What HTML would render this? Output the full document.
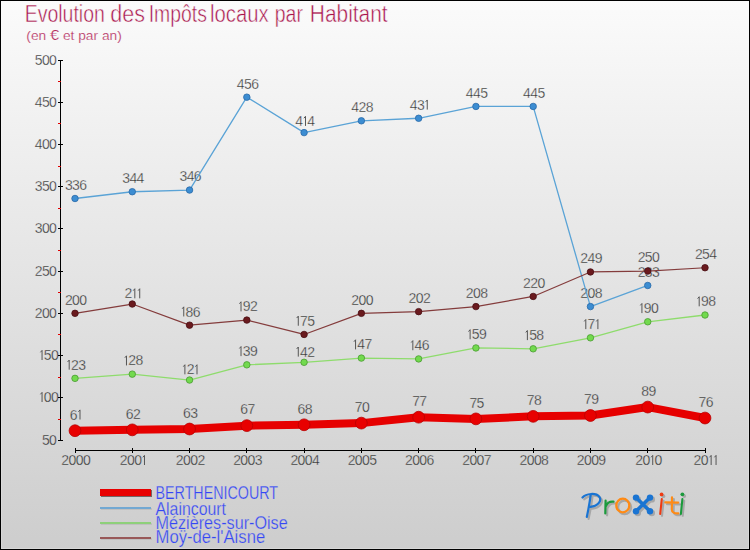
<!DOCTYPE html>
<html><head><meta charset="utf-8"><style>
html,body{margin:0;padding:0;background:#fff;}
svg{display:block;font-family:"Liberation Sans",sans-serif;}
</style></head><body>
<svg width="750" height="550" viewBox="0 0 750 550">
<defs><linearGradient id="bg" x1="0" y1="0" x2="0" y2="550" gradientUnits="userSpaceOnUse"><stop offset="0" stop-color="#fbfbfb"/><stop offset="1" stop-color="#cdcdcd"/></linearGradient><filter id="sh" x="-30%" y="-30%" width="160%" height="160%"><feGaussianBlur stdDeviation="0.7"/></filter></defs>
<rect x="0" y="0" width="750" height="550" fill="url(#bg)"/>
<rect x="1.5" y="1.5" width="747" height="547" fill="none" stroke="#ffffff" stroke-opacity="0.2" stroke-width="1"/>
<rect x="0.5" y="0.5" width="749" height="549" fill="none" stroke="#000" stroke-width="1"/>
<text x="24.70" y="22" font-size="23.5" fill="#a8144c" stroke="url(#bg)" stroke-width="0.5" textLength="80.16" lengthAdjust="spacingAndGlyphs">Evolution</text>
<text x="110.30" y="22" font-size="23.5" fill="#a8144c" stroke="url(#bg)" stroke-width="0.5" textLength="34.58" lengthAdjust="spacingAndGlyphs">des</text>
<text x="148.71" y="22" font-size="23.5" fill="#a8144c" stroke="url(#bg)" stroke-width="0.5" textLength="58.19" lengthAdjust="spacingAndGlyphs">Impôts</text>
<text x="210.03" y="22" font-size="23.5" fill="#a8144c" stroke="url(#bg)" stroke-width="0.5" textLength="58.58" lengthAdjust="spacingAndGlyphs">locaux</text>
<text x="274.74" y="22" font-size="23.5" fill="#a8144c" stroke="url(#bg)" stroke-width="0.5" textLength="28.18" lengthAdjust="spacingAndGlyphs">par</text>
<text x="309.79" y="22" font-size="23.5" fill="#a8144c" stroke="url(#bg)" stroke-width="0.5" textLength="77.87" lengthAdjust="spacingAndGlyphs">Habitant</text>
<text x="26.3" y="39.8" font-size="13" fill="#b42a5c" stroke="url(#bg)" stroke-width="0.2" textLength="95.5" lengthAdjust="spacingAndGlyphs">(en <tspan font-size="15.5">€</tspan> et par an)</text>
<text x="41.91 49.11" y="445.0" font-size="14" fill="#2a2a2a" stroke="url(#bg)" stroke-width="0.3">50</text>
<text x="43.81 51.01" y="402.0" font-size="14" fill="#2a2a2a" stroke="url(#bg)" stroke-width="0.3">00</text><path d="M40.45,394.30 L42.05,392.40 L42.05,402.00" fill="none" stroke="#555" stroke-width="1.0" stroke-linejoin="round"/>
<text x="43.81 51.01" y="360.0" font-size="14" fill="#2a2a2a" stroke="url(#bg)" stroke-width="0.3">50</text><path d="M40.45,352.30 L42.05,350.40 L42.05,360.00" fill="none" stroke="#555" stroke-width="1.0" stroke-linejoin="round"/>
<text x="34.71 41.91 49.11" y="318.0" font-size="14" fill="#2a2a2a" stroke="url(#bg)" stroke-width="0.3">200</text>
<text x="34.71 41.91 49.11" y="276.0" font-size="14" fill="#2a2a2a" stroke="url(#bg)" stroke-width="0.3">250</text>
<text x="34.71 41.91 49.11" y="233.0" font-size="14" fill="#2a2a2a" stroke="url(#bg)" stroke-width="0.3">300</text>
<text x="34.71 41.91 49.11" y="191.0" font-size="14" fill="#2a2a2a" stroke="url(#bg)" stroke-width="0.3">350</text>
<text x="34.71 41.91 49.11" y="149.0" font-size="14" fill="#2a2a2a" stroke="url(#bg)" stroke-width="0.3">400</text>
<text x="34.71 41.91 49.11" y="107.0" font-size="14" fill="#2a2a2a" stroke="url(#bg)" stroke-width="0.3">450</text>
<text x="34.71 41.91 49.11" y="65.0" font-size="14" fill="#2a2a2a" stroke="url(#bg)" stroke-width="0.3">500</text>
<text x="61.31 68.51 75.71 82.91" y="465.0" font-size="14" fill="#2a2a2a" stroke="url(#bg)" stroke-width="0.3">2000</text>
<text x="119.73 126.93 134.13" y="465.0" font-size="14" fill="#2a2a2a" stroke="url(#bg)" stroke-width="0.3">200</text><path d="M142.87,457.30 L144.47,455.40 L144.47,465.00" fill="none" stroke="#555" stroke-width="1.0" stroke-linejoin="round"/>
<text x="175.85 183.05 190.25 197.45" y="465.0" font-size="14" fill="#2a2a2a" stroke="url(#bg)" stroke-width="0.3">2002</text>
<text x="233.13 240.33 247.53 254.73" y="465.0" font-size="14" fill="#2a2a2a" stroke="url(#bg)" stroke-width="0.3">2003</text>
<text x="290.40 297.60 304.80 312.00" y="465.0" font-size="14" fill="#2a2a2a" stroke="url(#bg)" stroke-width="0.3">2004</text>
<text x="347.67 354.87 362.07 369.27" y="465.0" font-size="14" fill="#2a2a2a" stroke="url(#bg)" stroke-width="0.3">2005</text>
<text x="404.94 412.14 419.34 426.54" y="465.0" font-size="14" fill="#2a2a2a" stroke="url(#bg)" stroke-width="0.3">2006</text>
<text x="462.22 469.42 476.62 483.82" y="465.0" font-size="14" fill="#2a2a2a" stroke="url(#bg)" stroke-width="0.3">2007</text>
<text x="519.49 526.69 533.89 541.09" y="465.0" font-size="14" fill="#2a2a2a" stroke="url(#bg)" stroke-width="0.3">2008</text>
<text x="576.76 583.96 591.16 598.36" y="465.0" font-size="14" fill="#2a2a2a" stroke="url(#bg)" stroke-width="0.3">2009</text>
<text x="635.19 642.39 654.49" y="465.0" font-size="14" fill="#2a2a2a" stroke="url(#bg)" stroke-width="0.3">200</text><path d="M651.13,457.30 L652.73,455.40 L652.73,465.00" fill="none" stroke="#555" stroke-width="1.0" stroke-linejoin="round"/>
<text x="693.61 700.81" y="465.0" font-size="14" fill="#2a2a2a" stroke="url(#bg)" stroke-width="0.3">20</text><path d="M709.55,457.30 L711.15,455.40 L711.15,465.00" fill="none" stroke="#555" stroke-width="1.0" stroke-linejoin="round"/><path d="M714.45,457.30 L716.05,455.40 L716.05,465.00" fill="none" stroke="#555" stroke-width="1.0" stroke-linejoin="round"/>
<text x="64.91 72.11 79.31" y="189.8" font-size="14" fill="#2a2a2a" stroke="url(#bg)" stroke-width="0.3">336</text><text x="122.18 129.38 136.58" y="183.0" font-size="14" fill="#2a2a2a" stroke="url(#bg)" stroke-width="0.3">344</text><text x="179.45 186.65 193.85" y="181.3" font-size="14" fill="#2a2a2a" stroke="url(#bg)" stroke-width="0.3">346</text><text x="236.73 243.93 251.13" y="88.5" font-size="14" fill="#2a2a2a" stroke="url(#bg)" stroke-width="0.3">456</text><text x="295.15 307.25" y="125.9" font-size="14" fill="#2a2a2a" stroke="url(#bg)" stroke-width="0.3">44</text><path d="M303.89,118.22 L305.49,116.32 L305.49,125.92" fill="none" stroke="#555" stroke-width="1.0" stroke-linejoin="round"/><text x="351.27 358.47 365.67" y="112.1" font-size="14" fill="#2a2a2a" stroke="url(#bg)" stroke-width="0.3">428</text><text x="409.69 416.89" y="109.6" font-size="14" fill="#2a2a2a" stroke="url(#bg)" stroke-width="0.3">43</text><path d="M425.64,101.87 L427.24,99.97 L427.24,109.57" fill="none" stroke="#555" stroke-width="1.0" stroke-linejoin="round"/><text x="465.82 473.02 480.22" y="97.7" font-size="14" fill="#2a2a2a" stroke="url(#bg)" stroke-width="0.3">445</text><text x="523.09 530.29 537.49" y="97.7" font-size="14" fill="#2a2a2a" stroke="url(#bg)" stroke-width="0.3">445</text><text x="580.36 587.56 594.76" y="297.9" font-size="14" fill="#2a2a2a" stroke="url(#bg)" stroke-width="0.3">208</text><text x="637.64 644.84 652.04" y="276.8" font-size="14" fill="#2a2a2a" stroke="url(#bg)" stroke-width="0.3">233</text>
<text x="70.96 78.16" y="369.7" font-size="14" fill="#2a2a2a" stroke="url(#bg)" stroke-width="0.3">23</text><path d="M67.60,361.96 L69.20,360.06 L69.20,369.66" fill="none" stroke="#555" stroke-width="1.0" stroke-linejoin="round"/><text x="128.23 135.43" y="365.4" font-size="14" fill="#2a2a2a" stroke="url(#bg)" stroke-width="0.3">28</text><path d="M124.87,357.73 L126.47,355.83 L126.47,365.43" fill="none" stroke="#555" stroke-width="1.0" stroke-linejoin="round"/><text x="186.65" y="374.3" font-size="14" fill="#2a2a2a" stroke="url(#bg)" stroke-width="0.3">2</text><path d="M183.30,366.64 L184.90,364.74 L184.90,374.34" fill="none" stroke="#555" stroke-width="1.0" stroke-linejoin="round"/><path d="M195.40,366.64 L197.00,364.74 L197.00,374.34" fill="none" stroke="#555" stroke-width="1.0" stroke-linejoin="round"/><text x="242.78 249.98" y="356.1" font-size="14" fill="#2a2a2a" stroke="url(#bg)" stroke-width="0.3">39</text><path d="M239.42,348.44 L241.02,346.54 L241.02,356.14" fill="none" stroke="#555" stroke-width="1.0" stroke-linejoin="round"/><text x="300.05 307.25" y="356.6" font-size="14" fill="#2a2a2a" stroke="url(#bg)" stroke-width="0.3">42</text><path d="M296.69,348.91 L298.29,347.01 L298.29,356.61" fill="none" stroke="#555" stroke-width="1.0" stroke-linejoin="round"/><text x="357.32 364.52" y="349.4" font-size="14" fill="#2a2a2a" stroke="url(#bg)" stroke-width="0.3">47</text><path d="M353.96,341.69 L355.56,339.79 L355.56,349.39" fill="none" stroke="#555" stroke-width="1.0" stroke-linejoin="round"/><text x="414.59 421.79" y="350.2" font-size="14" fill="#2a2a2a" stroke="url(#bg)" stroke-width="0.3">46</text><path d="M411.24,342.53 L412.84,340.63 L412.84,350.23" fill="none" stroke="#555" stroke-width="1.0" stroke-linejoin="round"/><text x="471.87 479.07" y="339.3" font-size="14" fill="#2a2a2a" stroke="url(#bg)" stroke-width="0.3">59</text><path d="M468.51,331.56 L470.11,329.66 L470.11,339.26" fill="none" stroke="#555" stroke-width="1.0" stroke-linejoin="round"/><text x="529.14 536.34" y="340.1" font-size="14" fill="#2a2a2a" stroke="url(#bg)" stroke-width="0.3">58</text><path d="M525.78,332.40 L527.38,330.50 L527.38,340.10" fill="none" stroke="#555" stroke-width="1.0" stroke-linejoin="round"/><text x="587.56" y="329.1" font-size="14" fill="#2a2a2a" stroke="url(#bg)" stroke-width="0.3">7</text><path d="M584.20,321.42 L585.80,319.52 L585.80,329.12" fill="none" stroke="#555" stroke-width="1.0" stroke-linejoin="round"/><path d="M596.30,321.42 L597.90,319.52 L597.90,329.12" fill="none" stroke="#555" stroke-width="1.0" stroke-linejoin="round"/><text x="643.69 650.89" y="313.1" font-size="14" fill="#2a2a2a" stroke="url(#bg)" stroke-width="0.3">90</text><path d="M640.33,305.38 L641.93,303.48 L641.93,313.08" fill="none" stroke="#555" stroke-width="1.0" stroke-linejoin="round"/><text x="700.96 708.16" y="306.3" font-size="14" fill="#2a2a2a" stroke="url(#bg)" stroke-width="0.3">98</text><path d="M697.60,298.62 L699.20,296.72 L699.20,306.32" fill="none" stroke="#555" stroke-width="1.0" stroke-linejoin="round"/>
<text x="64.91 72.11 79.31" y="304.6" font-size="14" fill="#2a2a2a" stroke="url(#bg)" stroke-width="0.3">200</text><text x="124.48" y="298.3" font-size="14" fill="#2a2a2a" stroke="url(#bg)" stroke-width="0.3">2</text><path d="M133.22,290.64 L134.82,288.74 L134.82,298.34" fill="none" stroke="#555" stroke-width="1.0" stroke-linejoin="round"/><path d="M138.12,290.64 L139.72,288.74 L139.72,298.34" fill="none" stroke="#555" stroke-width="1.0" stroke-linejoin="round"/><text x="185.50 192.70" y="316.5" font-size="14" fill="#2a2a2a" stroke="url(#bg)" stroke-width="0.3">86</text><path d="M182.15,308.76 L183.75,306.86 L183.75,316.46" fill="none" stroke="#555" stroke-width="1.0" stroke-linejoin="round"/><text x="242.78 249.98" y="311.4" font-size="14" fill="#2a2a2a" stroke="url(#bg)" stroke-width="0.3">92</text><path d="M239.42,303.69 L241.02,301.79 L241.02,311.39" fill="none" stroke="#555" stroke-width="1.0" stroke-linejoin="round"/><text x="300.05 307.25" y="325.7" font-size="14" fill="#2a2a2a" stroke="url(#bg)" stroke-width="0.3">75</text><path d="M296.69,318.04 L298.29,316.14 L298.29,325.74" fill="none" stroke="#555" stroke-width="1.0" stroke-linejoin="round"/><text x="351.27 358.47 365.67" y="304.6" font-size="14" fill="#2a2a2a" stroke="url(#bg)" stroke-width="0.3">200</text><text x="408.54 415.74 422.94" y="302.9" font-size="14" fill="#2a2a2a" stroke="url(#bg)" stroke-width="0.3">202</text><text x="465.82 473.02 480.22" y="297.9" font-size="14" fill="#2a2a2a" stroke="url(#bg)" stroke-width="0.3">208</text><text x="523.09 530.29 537.49" y="287.7" font-size="14" fill="#2a2a2a" stroke="url(#bg)" stroke-width="0.3">220</text><text x="580.36 587.56 594.76" y="263.3" font-size="14" fill="#2a2a2a" stroke="url(#bg)" stroke-width="0.3">249</text><text x="637.64 644.84 652.04" y="262.4" font-size="14" fill="#2a2a2a" stroke="url(#bg)" stroke-width="0.3">250</text><text x="694.91 702.11 709.31" y="259.0" font-size="14" fill="#2a2a2a" stroke="url(#bg)" stroke-width="0.3">254</text>
<text x="69.66" y="419.5" font-size="14" fill="#2a2a2a" stroke="url(#bg)" stroke-width="0.3">6</text><path d="M78.40,411.81 L80.00,409.91 L80.00,419.51" fill="none" stroke="#555" stroke-width="1.0" stroke-linejoin="round"/><text x="125.78 132.98" y="418.7" font-size="14" fill="#2a2a2a" stroke="url(#bg)" stroke-width="0.3">62</text><text x="183.05 190.25" y="417.8" font-size="14" fill="#2a2a2a" stroke="url(#bg)" stroke-width="0.3">63</text><text x="240.33 247.53" y="414.4" font-size="14" fill="#2a2a2a" stroke="url(#bg)" stroke-width="0.3">67</text><text x="297.60 304.80" y="413.6" font-size="14" fill="#2a2a2a" stroke="url(#bg)" stroke-width="0.3">68</text><text x="354.87 362.07" y="411.9" font-size="14" fill="#2a2a2a" stroke="url(#bg)" stroke-width="0.3">70</text><text x="412.14 419.34" y="406.0" font-size="14" fill="#2a2a2a" stroke="url(#bg)" stroke-width="0.3">77</text><text x="469.42 476.62" y="407.7" font-size="14" fill="#2a2a2a" stroke="url(#bg)" stroke-width="0.3">75</text><text x="526.69 533.89" y="405.2" font-size="14" fill="#2a2a2a" stroke="url(#bg)" stroke-width="0.3">78</text><text x="583.96 591.16" y="404.3" font-size="14" fill="#2a2a2a" stroke="url(#bg)" stroke-width="0.3">79</text><text x="641.24 648.44" y="395.9" font-size="14" fill="#2a2a2a" stroke="url(#bg)" stroke-width="0.3">89</text><text x="698.51 705.71" y="406.8" font-size="14" fill="#2a2a2a" stroke="url(#bg)" stroke-width="0.3">76</text>
<g shape-rendering="crispEdges"><line x1="60.5" y1="60" x2="60.5" y2="441" stroke="#000" stroke-width="1"/><line x1="58" y1="440.5" x2="63" y2="440.5" stroke="#000"/><line x1="58" y1="397.5" x2="63" y2="397.5" stroke="#000"/><line x1="58" y1="355.5" x2="63" y2="355.5" stroke="#000"/><line x1="58" y1="313.5" x2="63" y2="313.5" stroke="#000"/><line x1="58" y1="271.5" x2="63" y2="271.5" stroke="#000"/><line x1="58" y1="228.5" x2="63" y2="228.5" stroke="#000"/><line x1="58" y1="186.5" x2="63" y2="186.5" stroke="#000"/><line x1="58" y1="144.5" x2="63" y2="144.5" stroke="#000"/><line x1="58" y1="102.5" x2="63" y2="102.5" stroke="#000"/><line x1="58" y1="60.5" x2="63" y2="60.5" stroke="#000"/><line x1="58" y1="419.5" x2="61" y2="419.5" stroke="#e00000"/><line x1="58" y1="377.5" x2="61" y2="377.5" stroke="#e00000"/><line x1="58" y1="334.5" x2="61" y2="334.5" stroke="#e00000"/><line x1="58" y1="292.5" x2="61" y2="292.5" stroke="#e00000"/><line x1="58" y1="250.5" x2="61" y2="250.5" stroke="#e00000"/><line x1="58" y1="208.5" x2="61" y2="208.5" stroke="#e00000"/><line x1="58" y1="166.5" x2="61" y2="166.5" stroke="#e00000"/><line x1="58" y1="123.5" x2="61" y2="123.5" stroke="#e00000"/><line x1="58" y1="81.5" x2="61" y2="81.5" stroke="#e00000"/><line x1="75" y1="450.5" x2="706" y2="450.5" stroke="#000"/><line x1="75.5" y1="448" x2="75.5" y2="453" stroke="#000"/><line x1="132.5" y1="448" x2="132.5" y2="453" stroke="#000"/><line x1="189.5" y1="448" x2="189.5" y2="453" stroke="#000"/><line x1="246.5" y1="448" x2="246.5" y2="453" stroke="#000"/><line x1="304.5" y1="448" x2="304.5" y2="453" stroke="#000"/><line x1="361.5" y1="448" x2="361.5" y2="453" stroke="#000"/><line x1="418.5" y1="448" x2="418.5" y2="453" stroke="#000"/><line x1="475.5" y1="448" x2="475.5" y2="453" stroke="#000"/><line x1="533.5" y1="448" x2="533.5" y2="453" stroke="#000"/><line x1="590.5" y1="448" x2="590.5" y2="453" stroke="#000"/><line x1="647.5" y1="448" x2="647.5" y2="453" stroke="#000"/><line x1="705.5" y1="448" x2="705.5" y2="453" stroke="#000"/></g>
<polyline points="75.00,430.71 132.27,429.87 189.55,429.02 246.82,425.64 304.09,424.80 361.36,423.11 418.64,417.20 475.91,418.89 533.18,416.36 590.45,415.51 647.73,407.07 705.00,418.04" fill="none" stroke="#e60000" stroke-width="8" stroke-linejoin="round"/><circle cx="75.00" cy="430.71" r="5.9" fill="#e80000" stroke="#b80000" stroke-width="0.8"/><circle cx="132.27" cy="429.87" r="5.9" fill="#e80000" stroke="#b80000" stroke-width="0.8"/><circle cx="189.55" cy="429.02" r="5.9" fill="#e80000" stroke="#b80000" stroke-width="0.8"/><circle cx="246.82" cy="425.64" r="5.9" fill="#e80000" stroke="#b80000" stroke-width="0.8"/><circle cx="304.09" cy="424.80" r="5.9" fill="#e80000" stroke="#b80000" stroke-width="0.8"/><circle cx="361.36" cy="423.11" r="5.9" fill="#e80000" stroke="#b80000" stroke-width="0.8"/><circle cx="418.64" cy="417.20" r="5.9" fill="#e80000" stroke="#b80000" stroke-width="0.8"/><circle cx="475.91" cy="418.89" r="5.9" fill="#e80000" stroke="#b80000" stroke-width="0.8"/><circle cx="533.18" cy="416.36" r="5.9" fill="#e80000" stroke="#b80000" stroke-width="0.8"/><circle cx="590.45" cy="415.51" r="5.9" fill="#e80000" stroke="#b80000" stroke-width="0.8"/><circle cx="647.73" cy="407.07" r="5.9" fill="#e80000" stroke="#b80000" stroke-width="0.8"/><circle cx="705.00" cy="418.04" r="5.9" fill="#e80000" stroke="#b80000" stroke-width="0.8"/>
<polyline points="75.00,198.49 132.27,191.73 189.55,190.04 246.82,97.16 304.09,132.62 361.36,120.80 418.64,118.27 475.91,106.44 533.18,106.44 590.45,306.58 647.73,285.47" fill="none" stroke="#5aa3d6" stroke-width="1.3" stroke-linejoin="round"/><circle cx="75.00" cy="198.49" r="3.25" fill="#3c8dd2" stroke="#2a6aa8" stroke-width="0.8"/><circle cx="132.27" cy="191.73" r="3.25" fill="#3c8dd2" stroke="#2a6aa8" stroke-width="0.8"/><circle cx="189.55" cy="190.04" r="3.25" fill="#3c8dd2" stroke="#2a6aa8" stroke-width="0.8"/><circle cx="246.82" cy="97.16" r="3.25" fill="#3c8dd2" stroke="#2a6aa8" stroke-width="0.8"/><circle cx="304.09" cy="132.62" r="3.25" fill="#3c8dd2" stroke="#2a6aa8" stroke-width="0.8"/><circle cx="361.36" cy="120.80" r="3.25" fill="#3c8dd2" stroke="#2a6aa8" stroke-width="0.8"/><circle cx="418.64" cy="118.27" r="3.25" fill="#3c8dd2" stroke="#2a6aa8" stroke-width="0.8"/><circle cx="475.91" cy="106.44" r="3.25" fill="#3c8dd2" stroke="#2a6aa8" stroke-width="0.8"/><circle cx="533.18" cy="106.44" r="3.25" fill="#3c8dd2" stroke="#2a6aa8" stroke-width="0.8"/><circle cx="590.45" cy="306.58" r="3.25" fill="#3c8dd2" stroke="#2a6aa8" stroke-width="0.8"/><circle cx="647.73" cy="285.47" r="3.25" fill="#3c8dd2" stroke="#2a6aa8" stroke-width="0.8"/>
<polyline points="75.00,378.36 132.27,374.13 189.55,380.04 246.82,364.84 304.09,362.31 361.36,358.09 418.64,358.93 475.91,347.96 533.18,348.80 590.45,337.82 647.73,321.78 705.00,315.02" fill="none" stroke="#8edc6c" stroke-width="1.3" stroke-linejoin="round"/><circle cx="75.00" cy="378.36" r="3.25" fill="#72da4e" stroke="#4a9a32" stroke-width="0.8"/><circle cx="132.27" cy="374.13" r="3.25" fill="#72da4e" stroke="#4a9a32" stroke-width="0.8"/><circle cx="189.55" cy="380.04" r="3.25" fill="#72da4e" stroke="#4a9a32" stroke-width="0.8"/><circle cx="246.82" cy="364.84" r="3.25" fill="#72da4e" stroke="#4a9a32" stroke-width="0.8"/><circle cx="304.09" cy="362.31" r="3.25" fill="#72da4e" stroke="#4a9a32" stroke-width="0.8"/><circle cx="361.36" cy="358.09" r="3.25" fill="#72da4e" stroke="#4a9a32" stroke-width="0.8"/><circle cx="418.64" cy="358.93" r="3.25" fill="#72da4e" stroke="#4a9a32" stroke-width="0.8"/><circle cx="475.91" cy="347.96" r="3.25" fill="#72da4e" stroke="#4a9a32" stroke-width="0.8"/><circle cx="533.18" cy="348.80" r="3.25" fill="#72da4e" stroke="#4a9a32" stroke-width="0.8"/><circle cx="590.45" cy="337.82" r="3.25" fill="#72da4e" stroke="#4a9a32" stroke-width="0.8"/><circle cx="647.73" cy="321.78" r="3.25" fill="#72da4e" stroke="#4a9a32" stroke-width="0.8"/><circle cx="705.00" cy="315.02" r="3.25" fill="#72da4e" stroke="#4a9a32" stroke-width="0.8"/>
<polyline points="75.00,313.33 132.27,304.04 189.55,325.16 246.82,320.09 304.09,334.44 361.36,313.33 418.64,311.64 475.91,306.58 533.18,296.44 590.45,271.96 647.73,271.11 705.00,267.73" fill="none" stroke="#843c3c" stroke-width="1.2" stroke-linejoin="round"/><circle cx="75.00" cy="313.33" r="3.25" fill="#6a1a1e" stroke="#4a1015" stroke-width="0.8"/><circle cx="132.27" cy="304.04" r="3.25" fill="#6a1a1e" stroke="#4a1015" stroke-width="0.8"/><circle cx="189.55" cy="325.16" r="3.25" fill="#6a1a1e" stroke="#4a1015" stroke-width="0.8"/><circle cx="246.82" cy="320.09" r="3.25" fill="#6a1a1e" stroke="#4a1015" stroke-width="0.8"/><circle cx="304.09" cy="334.44" r="3.25" fill="#6a1a1e" stroke="#4a1015" stroke-width="0.8"/><circle cx="361.36" cy="313.33" r="3.25" fill="#6a1a1e" stroke="#4a1015" stroke-width="0.8"/><circle cx="418.64" cy="311.64" r="3.25" fill="#6a1a1e" stroke="#4a1015" stroke-width="0.8"/><circle cx="475.91" cy="306.58" r="3.25" fill="#6a1a1e" stroke="#4a1015" stroke-width="0.8"/><circle cx="533.18" cy="296.44" r="3.25" fill="#6a1a1e" stroke="#4a1015" stroke-width="0.8"/><circle cx="590.45" cy="271.96" r="3.25" fill="#6a1a1e" stroke="#4a1015" stroke-width="0.8"/><circle cx="647.73" cy="271.11" r="3.25" fill="#6a1a1e" stroke="#4a1015" stroke-width="0.8"/><circle cx="705.00" cy="267.73" r="3.25" fill="#6a1a1e" stroke="#4a1015" stroke-width="0.8"/>
<g shape-rendering="crispEdges"><rect x="101" y="490" width="51" height="7" fill="#5a4a4a" opacity="0.8"/><rect x="100" y="489" width="51" height="7" fill="#e80000"/><rect x="101" y="508" width="51" height="2" fill="#b0b0b0" opacity="0.5"/><rect x="100" y="507" width="51" height="2" fill="#72a8d2"/><rect x="101" y="523" width="51" height="2" fill="#b0b0b0" opacity="0.5"/><rect x="100" y="522" width="51" height="2" fill="#8ed07a"/><rect x="101" y="538" width="51" height="2" fill="#b0b0b0" opacity="0.5"/><rect x="100" y="537" width="51" height="2" fill="#985858"/></g>
<text x="155.5" y="498.5" font-size="18" fill="#3446f6" stroke="url(#bg)" stroke-width="0.25" textLength="122.6" lengthAdjust="spacingAndGlyphs">BERTHENICOURT</text>
<text x="155.5" y="514.8" font-size="18" fill="#3446f6" stroke="url(#bg)" stroke-width="0.25" textLength="70.5" lengthAdjust="spacingAndGlyphs">Alaincourt</text>
<text x="155.5" y="529.2" font-size="18" fill="#3446f6" stroke="url(#bg)" stroke-width="0.25" textLength="132.2" lengthAdjust="spacingAndGlyphs">Mézières-sur-Oise</text>
<text x="155.5" y="543.3" font-size="18" fill="#3446f6" stroke="url(#bg)" stroke-width="0.25" textLength="109.7" lengthAdjust="spacingAndGlyphs">Moÿ-de-l'Aisne</text>
<g fill="none" stroke-linecap="round" stroke-linejoin="round"><g transform="translate(1.8,1.8)" opacity="0.6" filter="url(#sh)"><path d="M582.5,497.5 C586,493.5 596,492.3 599.5,497 C602,501 597.5,506.5 590.5,506.8 M590.8,494 C589.8,502 588.3,510 586.8,517" stroke="#8c8c8c" stroke-width="2.2"/><path d="M605.6,500.5 L605.3,513.5 M605.6,506.5 C607,503 610,501.2 613.5,501.6" stroke="#8c8c8c" stroke-width="2.2"/><ellipse cx="622.8" cy="505.5" rx="6.5" ry="6.8" stroke="#8c8c8c" stroke-width="2.3"/><path d="M636,497.6 L650,511.2 M650,497.6 L636,511.2" stroke="#8c8c8c" stroke-width="3.5"/><circle cx="636" cy="497.6" r="3.2" fill="#8c8c8c"/><circle cx="650" cy="497.6" r="3.2" fill="#8c8c8c"/><circle cx="636" cy="511.2" r="3.2" fill="#8c8c8c"/><circle cx="650" cy="511.2" r="3.2" fill="#8c8c8c"/><path d="M661.8,499 L660.2,514" stroke="#8c8c8c" stroke-width="2.1"/><circle cx="661.6" cy="494.4" r="1.9" fill="#8c8c8c"/><path d="M672,497.3 L671.8,509.5 C671.8,512.5 674.5,513.6 678.3,513.4 M665.3,502.4 L678.2,502.6" stroke="#8c8c8c" stroke-width="2.2"/><path d="M682.4,499 L680.9,514" stroke="#8c8c8c" stroke-width="2.1"/><circle cx="682.4" cy="494.3" r="1.9" fill="#8c8c8c"/></g><path d="M582.5,497.5 C586,493.5 596,492.3 599.5,497 C602,501 597.5,506.5 590.5,506.8 M590.8,494 C589.8,502 588.3,510 586.8,517" stroke="#1a74d2" stroke-width="2.2"/><path d="M605.6,500.5 L605.3,513.5 M605.6,506.5 C607,503 610,501.2 613.5,501.6" stroke="#1b9a3c" stroke-width="2.2"/><ellipse cx="622.8" cy="505.5" rx="6.5" ry="6.8" stroke="#ff8a14" stroke-width="2.3"/><path d="M636,497.6 L650,511.2 M650,497.6 L636,511.2" stroke="#1a74d2" stroke-width="3.5"/><circle cx="636" cy="497.6" r="3.2" fill="#1a74d2"/><circle cx="650" cy="497.6" r="3.2" fill="#1a74d2"/><circle cx="636" cy="511.2" r="3.2" fill="#1a74d2"/><circle cx="650" cy="511.2" r="3.2" fill="#1a74d2"/><path d="M661.8,499 L660.2,514" stroke="#ee3a12" stroke-width="2.1"/><circle cx="661.6" cy="494.4" r="1.9" fill="#ee3a12"/><path d="M672,497.3 L671.8,509.5 C671.8,512.5 674.5,513.6 678.3,513.4 M665.3,502.4 L678.2,502.6" stroke="#ff8a14" stroke-width="2.2"/><path d="M682.4,499 L680.9,514" stroke="#1b9a3c" stroke-width="2.1"/><circle cx="682.4" cy="494.3" r="1.9" fill="#1b9a3c"/></g>
</svg>
</body></html>
